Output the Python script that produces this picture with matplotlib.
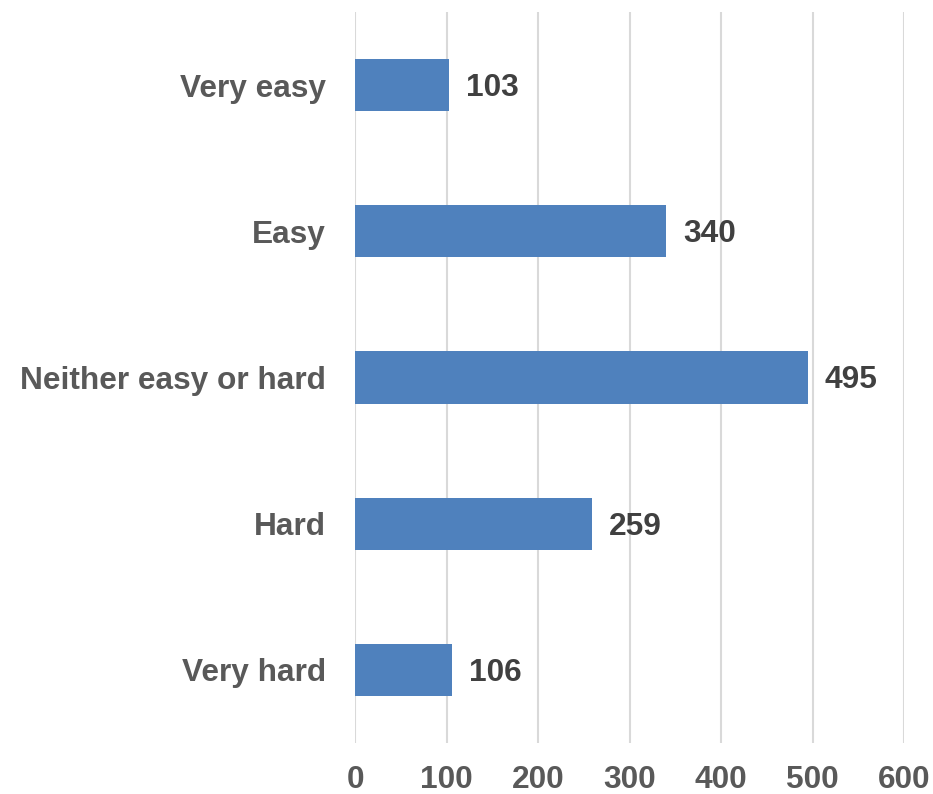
import matplotlib
matplotlib.use("Agg")
import matplotlib.pyplot as plt

categories = ["Very easy", "Easy", "Neither easy or hard", "Hard", "Very hard"]
counts = [103, 340, 495, 259, 106]
x_ticks = [0, 100, 200, 300, 400, 500, 600]

plt.rcParams['font.family'] = ['Liberation Sans', 'DejaVu Sans']

fig = plt.figure(figsize=(9.33, 7.94), dpi=100)
ax = fig.add_axes([355 / 933, (794 - 743) / 794, (904 - 355) / 933, (743 - 12) / 794])

ypos = list(range(len(categories)))[::-1]
ax.barh(ypos, counts, height=0.356, color="#4f81bd", zorder=3)

# value labels to the right of each bar
for y, v in zip(ypos, counts):
    ax.annotate(str(v), (v, y), xytext=(17, -3), textcoords="offset pixels",
                va="center", ha="left", fontsize=22.8, fontweight="bold", color="#404040")

ax.set_xlim(0, 600)
ax.set_ylim(-0.5, len(categories) - 0.5)
ax.set_xticks(x_ticks)
ax.set_xticklabels([str(t) for t in x_ticks])
ax.set_yticks(ypos)
ax.set_yticklabels(categories)
ax.tick_params(axis="both", length=0, labelsize=22.8, labelcolor="#595959")
ax.tick_params(axis="x", pad=16)
ax.tick_params(axis="y", pad=21)
for lbl in ax.get_xticklabels() + ax.get_yticklabels():
    lbl.set_fontweight("bold")

ax.grid(axis="x", color="#d9d9d9", linewidth=1.5, zorder=0)
for s in ax.spines.values():
    s.set_visible(False)

fig.savefig("out.png", dpi=100)
